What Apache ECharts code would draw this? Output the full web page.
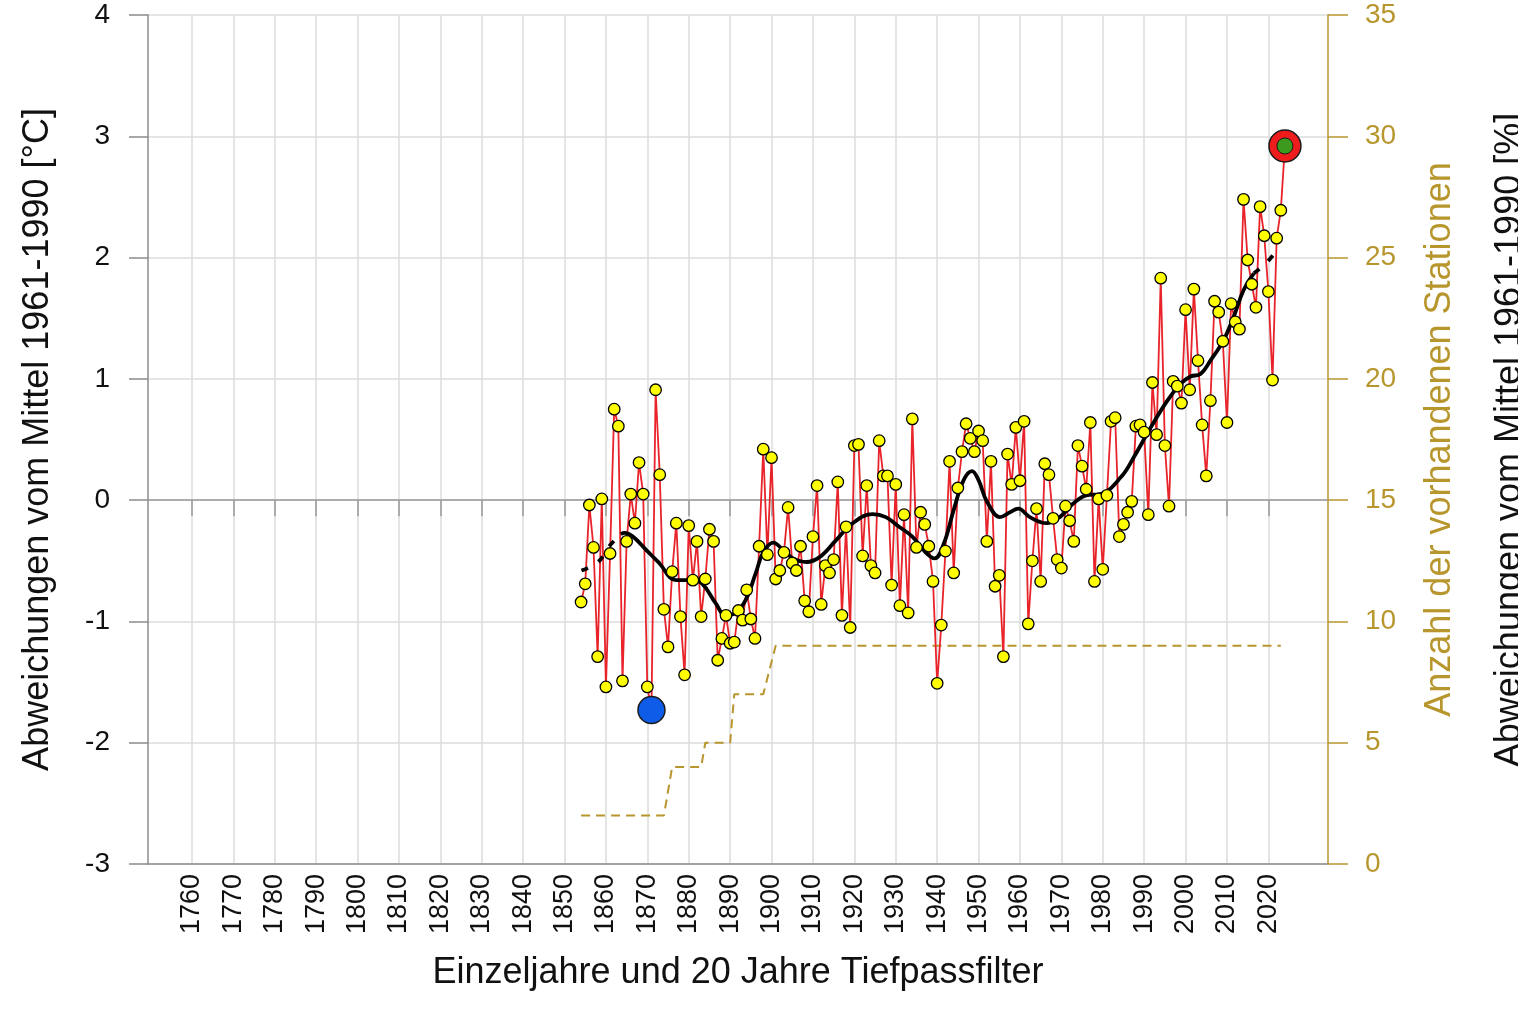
<!DOCTYPE html>
<html>
<head>
<meta charset="utf-8">
<script src="https://cdn.jsdelivr.net/npm/echarts@6/dist/echarts.min.js"></script>
<style>
  html, body { margin: 0; padding: 0; background: #fff; }
  #chart { width: 1518px; height: 1015px; }
</style>
</head>
<body>
<div id="chart"></div>
<script>
// Einzeljahre (Abweichung vom Mittel 1961-1990, °C)
const startYear = 1854;
const tempValues = [
  -0.84, -0.69, -0.04, -0.39, -1.29, 0.01, -1.54, -0.44, 0.75, 0.61,   // 1854-1863
  -1.49, -0.34, 0.05, -0.19, 0.31, 0.05, -1.54, -1.73, 0.91, 0.21,     // 1864-1873
  -0.90, -1.21, -0.59, -0.19, -0.96, -1.44, -0.21, -0.66, -0.34, -0.96, // 1874-1883
  -0.65, -0.24, -0.34, -1.32, -1.14, -0.95, -1.18, -1.17, -0.91, -0.99, // 1884-1893
  -0.74, -0.98, -1.14, -0.38, 0.42, -0.45, 0.35, -0.65, -0.58, -0.43,   // 1894-1903
  -0.06, -0.52, -0.58, -0.38, -0.83, -0.92, -0.30, 0.12, -0.86, -0.54,  // 1904-1913
  -0.60, -0.49, 0.15, -0.95, -0.22, -1.05, 0.45, 0.46, -0.46, 0.12,     // 1914-1923
  -0.54, -0.60, 0.49, 0.20, 0.20, -0.70, 0.13, -0.87, -0.12, -0.93,     // 1924-1933
  0.67, -0.39, -0.10, -0.20, -0.38, -0.67, -1.51, -1.03, -0.42, 0.32,   // 1934-1943
  -0.60, 0.10, 0.40, 0.63, 0.51, 0.40, 0.57, 0.49, -0.34, 0.32,         // 1944-1953
  -0.71, -0.62, -1.29, 0.38, 0.13, 0.60, 0.16, 0.65, -1.02, -0.50,      // 1954-1963
  -0.07, -0.67, 0.30, 0.21, -0.15, -0.49, -0.56, -0.05, -0.17, -0.34,   // 1964-1973
  0.45, 0.28, 0.09, 0.64, -0.67, 0.01, -0.57, 0.04, 0.65, 0.68,         // 1974-1983
  -0.30, -0.20, -0.10, -0.01, 0.61, 0.62, 0.56, -0.12, 0.97, 0.54,      // 1984-1993
  1.83, 0.45, -0.05, 0.98, 0.94, 0.80, 1.57, 0.91, 1.74, 1.15,          // 1994-2003
  0.62, 0.20, 0.82, 1.64, 1.55, 1.31, 0.64, 1.62, 1.47, 1.41,           // 2004-2013
  2.48, 1.98, 1.78, 1.59, 2.42, 2.18, 1.72, 0.99, 2.16, 2.39,           // 2014-2023
  2.92                                                                  // 2024
];

const filterStartYears = [1854.1, 1858.1, 1860.8, 1863.6];
const filterStartVals  = [-0.58, -0.51, -0.38, -0.28];
const filterYears = [1863.6, 1864.5, 1866.5, 1869.7, 1872.9, 1876.9, 1880.9, 1883.3, 1886.5, 1888.9,
  1891.3, 1893.8, 1896.2, 1898, 1900.4, 1902.8, 1905.2, 1908.4, 1911.6, 1915.6,
  1919.6, 1924.4, 1927.6, 1930.8, 1934, 1937.2, 1939.4, 1941.6, 1944, 1946.4,
  1948.4, 1950, 1952, 1955.2, 1957.6, 1959.6, 1962.4, 1966.4, 1969.6, 1972.8,
  1976, 1979.4, 1984.4, 1987.6, 1991.6, 1995.6, 1998.8, 2001.2, 2003.6, 2006,
  2009.2, 2011.6, 2014, 2016.5];
const filterVals = [-0.28, -0.27, -0.30, -0.41, -0.52, -0.66, -0.66, -0.69, -0.85, -0.95,
  -0.93, -0.82, -0.60, -0.43, -0.35, -0.41, -0.48, -0.51, -0.47, -0.33,
  -0.19, -0.115, -0.14, -0.22, -0.30, -0.43, -0.48, -0.36, -0.08, 0.165,
  0.24, 0.165, -0.01, -0.14, -0.10, -0.07, -0.14, -0.19, -0.14, -0.03,
  0.04, 0.05, 0.19, 0.36, 0.60, 0.82, 0.96, 1.02, 1.04, 1.15,
  1.32, 1.51, 1.73, 1.87];
const filterEndYears = [2016.5, 2019.6, 2022.5];
const filterEndVals  = [1.87, 1.96, 2.08];

// Anzahl der vorhandenen Stationen (Knickpunkte)
const stationYears  = [1854, 1874, 1876, 1883, 1884, 1890, 1891, 1898, 1901, 2023];
const stationCounts = [2, 2, 4, 4, 5, 5, 7, 7, 9, 9];

// kältestes / wärmstes Jahr
const coldYear = 1871, coldVal = -1.73;
const warmYear = 2024, warmVal = 2.92;

const decadeTicks = [];
for (let y = 1760; y <= 2020; y += 10) decadeTicks.push(y);

const zip = (a, b) => a.map((v, i) => [v, b[i]]);
const tempData = tempValues.map((v, i) => [startYear + i, v]);

const gold = '#B8962E';
const font = "'Liberation Sans', Arial, sans-serif";

const chart = echarts.init(document.getElementById('chart'));
chart.setOption({
  animation: false,
  backgroundColor: '#fff',
  textStyle: { fontFamily: font },
  grid: { left: 148, right: 190, top: 15, bottom: 151, containLabel: false, outerBoundsMode: 'none' },
  xAxis: [{
    type: 'value', min: 1749.4, max: 2034.4, position: 'bottom',
    axisLine: { onZero: false, lineStyle: { color: '#8c8c8c', width: 1.5 } },
    axisTick: { show: false, customValues: decadeTicks },
    axisLabel: {
      customValues: decadeTicks, rotate: 90, fontSize: 27, color: '#111', margin: 10, fontFamily: font,
      formatter: v => String(v)
    },
    splitLine: { show: true, lineStyle: { color: '#dcdcdc', width: 1.5 } },
    name: 'Einzeljahre und 20 Jahre Tiefpassfilter',
    nameLocation: 'middle', nameGap: 91,
    nameTextStyle: { fontSize: 36, color: '#111', fontFamily: font }
  }, {
    type: 'value', min: 1749.4, max: 2034.4, position: 'top',
    axisLine: { onZero: true, onZeroAxisIndex: 0, lineStyle: { color: '#999', width: 1.5 } },
    axisTick: { show: true, inside: true, length: 16, customValues: decadeTicks, lineStyle: { color: '#999', width: 1.5 } },
    axisLabel: { show: false },
    splitLine: { show: false }
  }],
  yAxis: [{
    type: 'value', min: -3, max: 4, interval: 1, position: 'left',
    axisLine: { show: true, onZero: false, lineStyle: { color: '#8c8c8c', width: 1.5 } },
    axisTick: { show: true, length: 19, lineStyle: { color: '#8c8c8c', width: 1.5 } },
    axisLabel: { fontSize: 28, color: '#111', margin: 38, fontFamily: font },
    splitLine: { show: true, lineStyle: { color: '#dcdcdc', width: 1.5 } },
    name: 'Abweichungen vom Mittel 1961-1990 [°C]',
    nameLocation: 'middle', nameGap: 92, nameRotate: 90,
    nameTextStyle: { fontSize: 36, color: '#111', fontFamily: font }
  }, {
    type: 'value', min: 0, max: 35, interval: 5, position: 'right',
    axisLine: { show: true, onZero: false, lineStyle: { color: gold, width: 1.5 } },
    axisTick: { show: true, length: 20, lineStyle: { color: gold, width: 1.5 } },
    axisLabel: { fontSize: 28, color: gold, margin: 37, fontFamily: font },
    splitLine: { show: false },
    name: 'Anzahl der vorhandenen Stationen',
    nameLocation: 'middle', nameGap: 94, nameRotate: 90,
    nameTextStyle: { fontSize: 36, color: gold, fontFamily: font }
  }],
  graphic: [{
    type: 'text', x: 1510, y: 440, rotation: Math.PI / 2,
    style: {
      text: 'Abweichungen vom Mittel 1961-1990 [%]',
      font: '36px ' + font, fill: '#111',
      textAlign: 'center', textVerticalAlign: 'middle'
    }
  }],
  series: [
    {
      name: 'Stationen', type: 'line', yAxisIndex: 1, symbol: 'none',
      data: zip(stationYears, stationCounts),
      lineStyle: { color: gold, width: 2, type: [9, 6] }, z: 1
    },
    {
      name: 'Einzeljahre', type: 'line', symbol: 'none',
      data: tempData,
      lineStyle: { color: '#e8232a', width: 1.8 }, z: 2
    },
    {
      name: 'Filter Anfang', type: 'line', symbol: 'none', smooth: 0.4,
      data: zip(filterStartYears, filterStartVals),
      lineStyle: { color: '#000', width: 3.8, type: [7, 12] }, z: 3
    },
    {
      name: 'Tiefpassfilter', type: 'line', symbol: 'none', smooth: 0.4,
      data: zip(filterYears, filterVals),
      lineStyle: { color: '#000', width: 3.8 }, z: 3
    },
    {
      name: 'Filter Ende', type: 'line', symbol: 'none', smooth: 0.4,
      data: zip(filterEndYears, filterEndVals),
      lineStyle: { color: '#000', width: 3.8, type: [7, 12] }, z: 3
    },
    {
      name: 'Punkte', type: 'scatter', symbolSize: 11.5,
      data: tempData,
      itemStyle: { color: '#ffff00', borderColor: '#000', borderWidth: 1.3, opacity: 1 }, z: 4
    },
    {
      name: 'Minimum', type: 'scatter', symbolSize: 27,
      data: [[coldYear, coldVal]],
      itemStyle: { color: '#0f5ce8', borderColor: '#1a1a1a', borderWidth: 1.5, opacity: 1 }, z: 5
    },
    {
      name: 'Maximum', type: 'scatter', symbolSize: 32,
      data: [[warmYear, warmVal]],
      itemStyle: { color: '#ee1c1c', borderColor: '#1a1a1a', borderWidth: 1.5, opacity: 1 }, z: 5
    },
    {
      name: 'Maximum innen', type: 'scatter', symbolSize: 16,
      data: [[warmYear, warmVal]],
      itemStyle: { color: '#3c9a1e', borderColor: '#1a1a1a', borderWidth: 1, opacity: 1 }, z: 6
    }
  ]
});
</script>
</body>
</html>
